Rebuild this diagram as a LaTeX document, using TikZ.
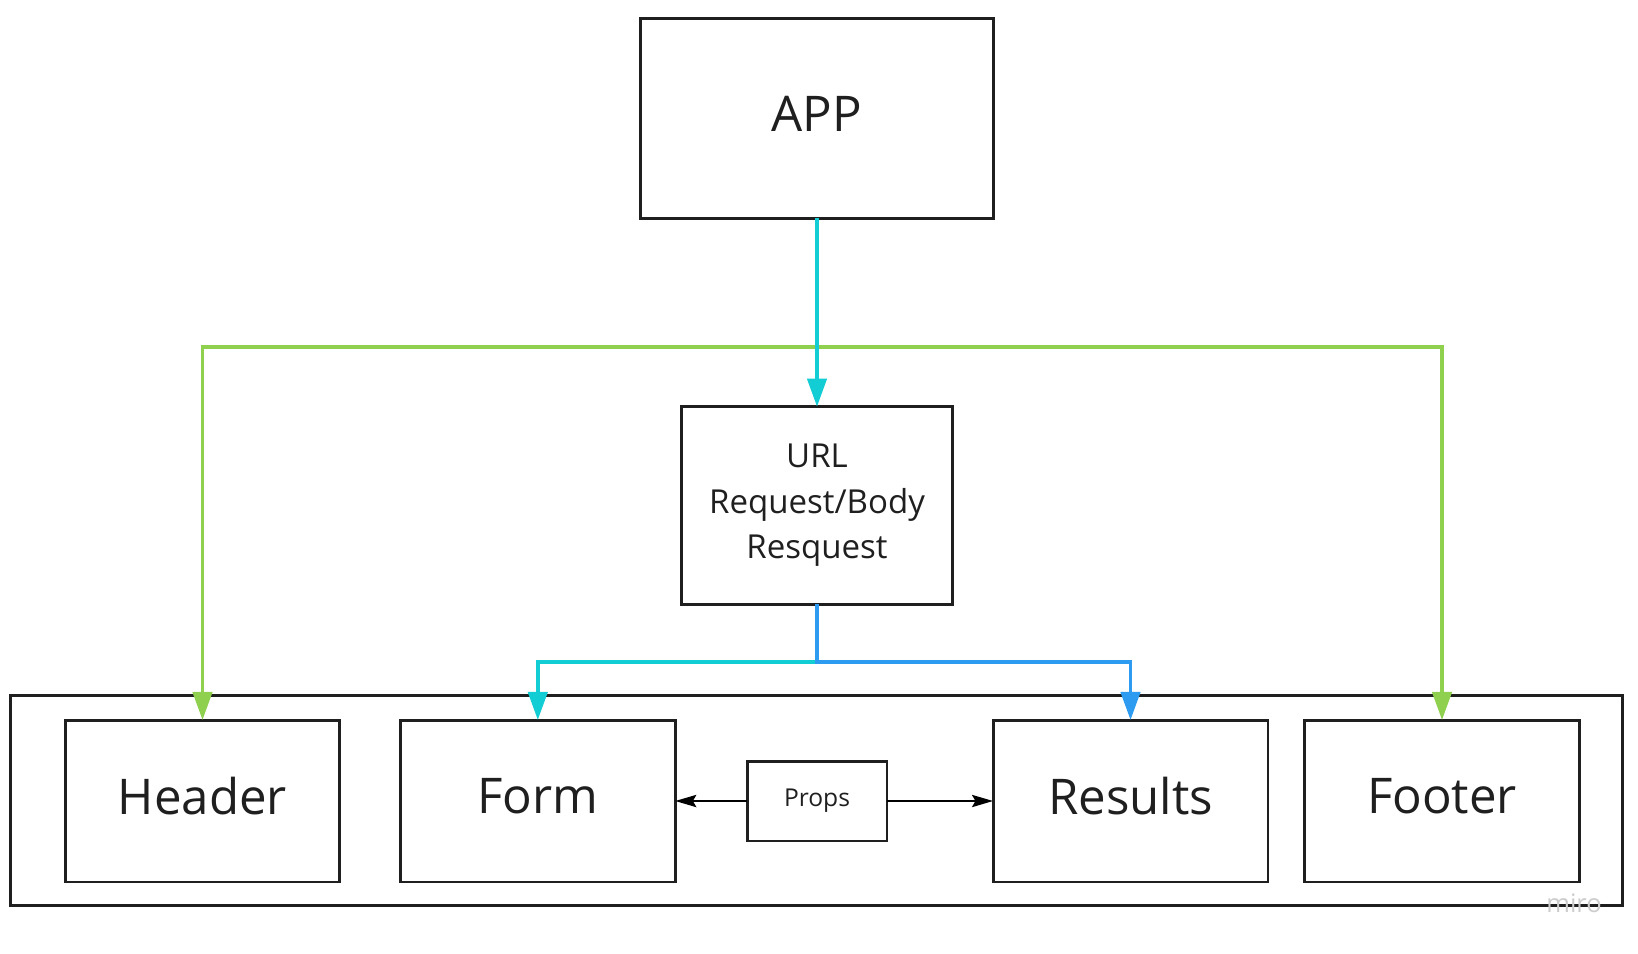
\documentclass[tikz,border=0pt]{standalone}
\usepackage{fontspec}
\setmainfont{Open Sans}
\usetikzlibrary{arrows.meta}
\definecolor{linkgreen}{HTML}{8FD14F}
\definecolor{linkcyan}{HTML}{12CDD4}
\definecolor{linkblue}{HTML}{2D9BF0}
\definecolor{ink}{HTML}{1F1F1F}
\tikzset{
  box/.style={draw=ink,line width=1.7pt,text=ink,inner sep=0pt,outer sep=0pt,align=center},
  bigbox/.style={box,minimum width=5.5cm,minimum height=3.24cm,text depth=5.6pt,font=\fontsize{28}{34}\selectfont},
  link/.style={line width=2pt,-{Triangle[length=16pt,width=11pt]}},
  propslink/.style={draw=black,line width=.9pt,-{Stealth[length=12pt,width=7pt,inset=2pt]}}
}
\begin{document}
\begin{tikzpicture}[x=0.02cm,y=-0.02cm]
\useasboundingbox (0,0) rectangle (1638,953);
\node at(816.5,800.5)[box,minimum width=32.26cm,minimum height=4.22cm](frame){};
\node at(817,118.5)[box,minimum width=7.06cm,minimum height=4cm,text depth=5.6pt,font=\fontsize{28}{34}\selectfont](app){APP};
\node at(817,505.4)[box,minimum width=5.42cm,minimum height=3.95cm,font=\fontsize{18.8}{26}\selectfont](url){URL\\Request/Body\\Resquest};
\foreach \n/\x in {header/202.5,form/537.8,results/1130.5,footer/1442}
  \node at(\x,801)[bigbox](\n){\expandafter\MakeUppercase\n};
\node at(817,801)[box,minimum width=2.8cm,minimum height=1.6cm,font=\fontsize{14}{16}\selectfont](props){Props};
\node at(1574,903)[text=black!20,font=\fontsize{14.5}{16}\selectfont](miro){miro};
\coordinate (greenbar) at (817,347);
\coordinate (split) at (817,662);
\draw[link,linkgreen,{Triangle[length=16pt,width=11pt]}-{Triangle[length=16pt,width=11pt]}] (header.north) |- (greenbar) -| (footer.north);
\draw[link,linkcyan] (app) -- (url);
\draw[link,linkcyan] (split) -| (form.north);
\draw[link,linkblue] (url.south) -- (split) -| (results.north);
\draw[propslink] (props) -- (form);
\draw[propslink] (props) -- (results);
\end{tikzpicture}
\end{document}
